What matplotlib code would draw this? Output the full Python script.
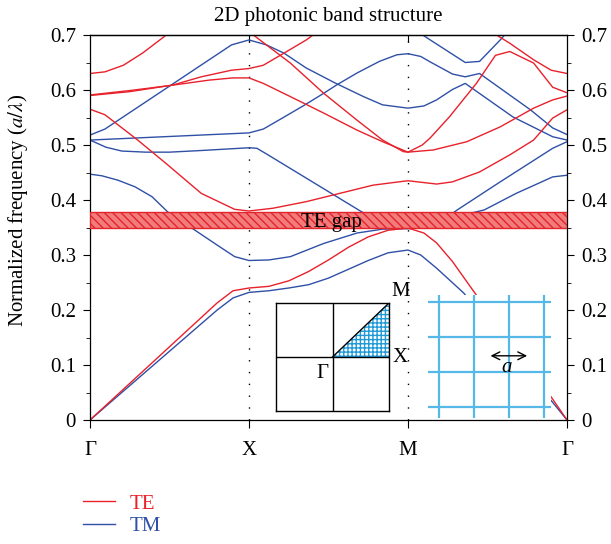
import matplotlib.pyplot as plt
from matplotlib.patches import Polygon

plt.rcParams['font.family'] = 'Liberation Serif'
plt.rcParams['mathtext.fontset'] = 'stix'
plt.rcParams['hatch.linewidth'] = 1.0

# path positions: Gamma=0, X=1, M=2, Gamma=3
sym_k = [0, 1, 2, 3]
sym_labels = ['Γ', 'X', 'M', 'Γ']

# TE bands (k along path, normalized frequency)
te1_k = [0, 0.80, 0.90, 1.0, 1.125, 1.25, 1.375, 1.5, 1.625, 1.75, 1.875, 2.0,
         2.1, 2.18, 2.28, 2.43, 2.905, 3.0]
te1_f = [0, 0.213, 0.235, 0.240, 0.243, 0.253, 0.270, 0.291, 0.314, 0.333,
         0.345, 0.349, 0.340, 0.322, 0.288, 0.227, 0.040, 0]
te2_k = [0, 0.094, 0.30, 0.48, 0.70, 0.91, 1.0, 1.15, 1.36, 1.57, 1.78, 1.97,
         2.0, 2.18, 2.28, 2.45, 2.64, 2.79, 2.91, 3.0]
te2_f = [0.565, 0.555, 0.509, 0.466, 0.412, 0.383, 0.380, 0.385, 0.397, 0.412,
         0.427, 0.434, 0.435, 0.429, 0.433, 0.451, 0.482, 0.509, 0.549, 0.564]
te3_k = [0, 0.25, 0.5, 0.75, 0.9, 1.0, 1.09, 1.26, 1.47, 1.68, 1.84, 2.0,
         2.16, 2.37, 2.58, 2.79, 2.91, 3.0]
te3_f = [0.591, 0.599, 0.608, 0.618, 0.622, 0.622, 0.612, 0.588, 0.558, 0.527,
         0.506, 0.487, 0.491, 0.506, 0.533, 0.567, 0.582, 0.589]
te4_k = [0, 0.25, 0.52, 0.7, 0.89, 1.0, 1.09, 1.22, 1.36, 1.5, 1.7]
te4_f = [0.590, 0.597, 0.609, 0.624, 0.636, 0.639, 0.645, 0.667, 0.691, 0.72,
         0.76]
te5_k = [0.92, 1.0, 1.26, 1.47, 1.68, 1.84, 1.97, 2.0, 2.09, 2.14, 2.26, 2.43,
         2.55, 2.64, 2.79, 2.91, 3.0]
te5_f = [0.72, 0.706, 0.649, 0.594, 0.545, 0.509, 0.488, 0.487, 0.500, 0.513,
         0.551, 0.612, 0.663, 0.670, 0.649, 0.605, 0.595]
te6_k = [0, 0.094, 0.21, 0.33, 0.48, 0.6, 2.45, 2.54, 2.64, 2.79, 2.90, 3.0]
te6_f = [0.630, 0.633, 0.645, 0.667, 0.700, 0.73, 0.72, 0.703, 0.685, 0.655,
         0.636, 0.630]

# TM bands
tm1_k = [0, 0.80, 0.90, 1.0, 1.125, 1.25, 1.375, 1.5, 1.625, 1.75, 1.875, 2.0,
         2.08, 2.18, 2.35, 3.0]
tm1_f = [0, 0.200, 0.222, 0.232, 0.235, 0.240, 0.246, 0.258, 0.274, 0.290,
         0.304, 0.309, 0.300, 0.276, 0.231, 0]
tm2_k = [0, 0.075, 0.176, 0.283, 0.39, 0.49, 0.64, 0.80, 0.91, 1.0, 1.125,
         1.26, 1.47, 1.68, 1.84, 2.0, 2.16, 2.31, 2.58, 2.91, 3.0]
tm2_f = [0.447, 0.444, 0.436, 0.424, 0.406, 0.378, 0.349, 0.318, 0.297, 0.290,
         0.291, 0.297, 0.321, 0.340, 0.347, 0.348, 0.351, 0.382, 0.433, 0.494,
         0.506]
tm3_k = [0, 0.1, 0.2, 0.35, 0.5, 0.7, 1.0, 1.05, 1.12, 1.70, 1.87, 2.0, 2.48,
         2.68, 2.91, 3.0]
tm3_f = [0.509, 0.496, 0.489, 0.487, 0.487, 0.490, 0.495, 0.494, 0.482, 0.380,
         0.352, 0.348, 0.382, 0.412, 0.442, 0.445]
tm4_k = [0, 1.0, 1.09, 1.21, 1.34, 1.47, 1.55, 1.68, 1.82, 1.93, 2.0, 2.08,
         2.14, 2.28, 2.36, 2.45, 2.77, 2.91, 3.0]
tm4_f = [0.509, 0.522, 0.529, 0.549, 0.571, 0.594, 0.609, 0.631, 0.652, 0.664,
         0.666, 0.661, 0.651, 0.629, 0.624, 0.630, 0.564, 0.531, 0.519]
tm5_k = [0, 0.094, 0.89, 1.0, 1.11, 1.22, 1.36, 1.54, 1.72, 1.84, 2.0, 2.1,
         2.18, 2.28, 2.36, 2.66, 2.91, 3.0]
tm5_f = [0.518, 0.529, 0.682, 0.691, 0.682, 0.667, 0.640, 0.613, 0.588, 0.573,
         0.567, 0.571, 0.582, 0.601, 0.612, 0.551, 0.515, 0.509]
tm6_k = [1.9, 2.14, 2.36, 2.45, 2.58, 2.7]
tm6_f = [0.736, 0.691, 0.650, 0.652, 0.691, 0.73]

te_bands = [(te1_k, te1_f), (te2_k, te2_f), (te3_k, te3_f), (te4_k, te4_f),
            (te5_k, te5_f), (te6_k, te6_f)]
tm_bands = [(tm1_k, tm1_f), (tm2_k, tm2_f), (tm3_k, tm3_f), (tm4_k, tm4_f),
            (tm5_k, tm5_f), (tm6_k, tm6_f)]

gap_lo, gap_hi = 0.349, 0.379

red = '#e8212b'
blue = '#2f50a6'
W, H = 611, 544

fig = plt.figure(figsize=(W / 100, H / 100), dpi=100)
ax = fig.add_axes([90 / W, 1 - 420 / H, 477 / W, 385 / H])

for kk, ff in tm_bands:
    l_tm, = ax.plot(kk, ff, color=blue, lw=1.0, zorder=2)
for kk, ff in te_bands:
    l_te, = ax.plot(kk, ff, color=red, lw=1.0, zorder=2)

for kx in sym_k[1:3]:
    ax.axvline(kx, color='black', lw=1.0, ls=(0, (1, 7.5)), zorder=1)

ax.axhspan(gap_lo, gap_hi, facecolor='#f27b7b', edgecolor='#e2242b',
           hatch='\\\\\\\\', lw=1.0, zorder=3)
ax.text(1.52, gap_lo + 0.001, 'TE gap', ha='center', va='baseline',
        fontsize=15, zorder=4)

ax.set_xlim(0, 3)
ax.set_ylim(0, 0.7)
ax.set_xticks(sym_k)
ax.set_xticklabels(sym_labels)
ax.set_yticks([0, 0.1, 0.2, 0.3, 0.4, 0.5, 0.6, 0.7])
ax.set_yticklabels(['0', '0.1', '0.2', '0.3', '0.4', '0.5', '0.6', '0.7'])
ax.set_yticks([0.05, 0.15, 0.25, 0.35, 0.45, 0.55, 0.65], minor=True)
ax.tick_params(axis='y', which='both', left=True, right=True, labelright=True,
               direction='out', labelsize=15, pad=5)
ax.tick_params(axis='y', which='major', length=5)
ax.tick_params(axis='y', which='minor', length=3)
ax.tick_params(axis='x', direction='out', length=6, labelsize=15, pad=9)
top = ax.secondary_xaxis('top')
top.set_xticks(sym_k[1:3])
top.tick_params(direction='in', length=5, labeltop=False)
for sp in list(ax.spines.values()) + list(top.spines.values()):
    sp.set_linewidth(0.9)

ax.set_title('2D photonic band structure', fontsize=15, pad=10)
ax.set_ylabel(r'Normalized frequency ($a/\lambda$)', fontsize=15)
ax.yaxis.set_label_coords(-0.125, 0.545)

# inset: Brillouin zone
bz = fig.add_axes([276 / W, 1 - 411 / H, 113 / W, 108 / H])
bz.set_xlim(-1, 1)
bz.set_ylim(-1, 1)
bz.set_xticks([])
bz.set_yticks([])
bz.axhline(0, color='black', lw=1.0)
bz.axvline(0, color='black', lw=1.0)
bz.add_patch(Polygon([(0, 0), (1, 0), (1, 1)], closed=True, facecolor='white',
                     edgecolor='#1f9ad6', hatch='++++', lw=0))
bz.plot([0, 1], [0, 1], color='black', lw=1.0)
for sp in bz.spines.values():
    sp.set_linewidth(1.0)
bz.text(1.2, 1.22, 'M', ha='center', va='center', fontsize=15, clip_on=False)
bz.text(1.2, 0.0, 'X', ha='center', va='center', fontsize=15, clip_on=False)
bz.text(-0.18, -0.31, 'Γ', ha='center', va='center', fontsize=15)

# inset: square lattice
lat = fig.add_axes([428 / W, 1 - 418 / H, 123 / W, 123 / H])
lat.set_xlim(0, 3.5)
lat.set_ylim(0, 3.5)
lat.set_xticks([])
lat.set_yticks([])
for sp in lat.spines.values():
    sp.set_visible(False)
for p in [0.3, 1.3, 2.3, 3.3]:
    lat.axvline(p, color='#55b8e6', lw=1.6)
    lat.axhline(p, color='#55b8e6', lw=1.6)
lat.annotate('', xy=(1.7, 1.77), xytext=(2.9, 1.77),
             arrowprops=dict(arrowstyle='<->', color='black', lw=1.0,
                             mutation_scale=14))
lat.text(2.25, 1.45, 'a', ha='center', va='center', fontsize=15,
         style='italic')

fig.legend([l_te, l_tm], ['TE', 'TM'], loc='upper left',
           bbox_to_anchor=(83 / W, 1 - 494 / H), frameon=False, fontsize=15,
           handlelength=1.55, handletextpad=0.7, labelspacing=0.15,
           borderpad=0, borderaxespad=0, labelcolor='linecolor')

fig.savefig('out.png', dpi=100)
